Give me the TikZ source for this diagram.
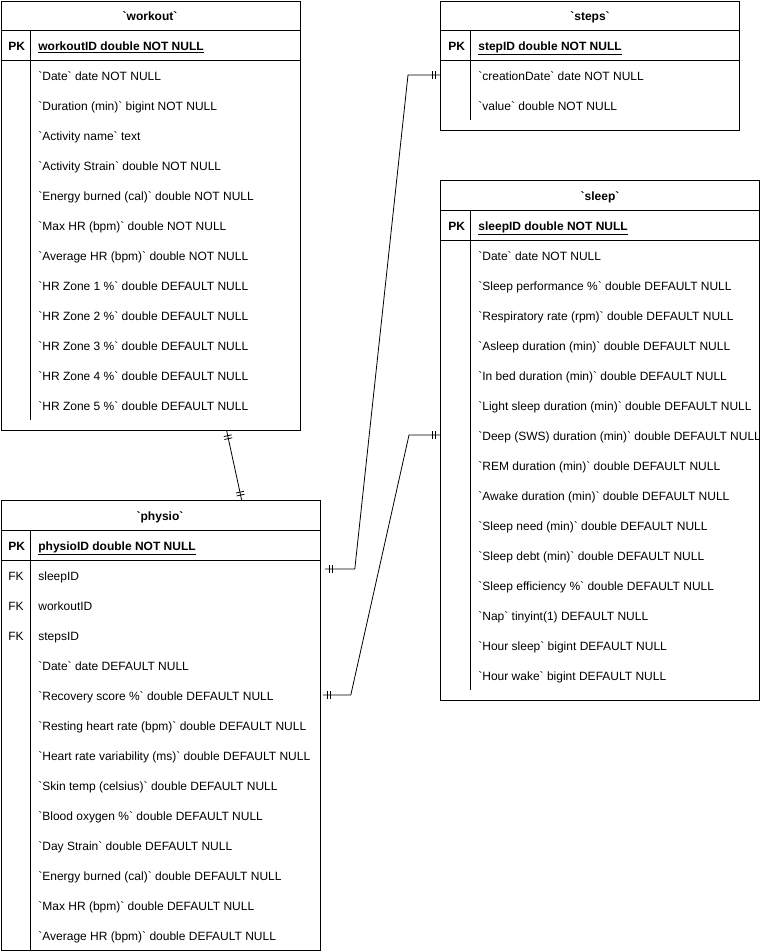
\documentclass[tikz,border=0pt]{standalone}
\usepackage{fontspec}
\setmainfont{Liberation Sans}
\usetikzlibrary{decorations.markings}
\newcommand{\bqt}[1]{\textasciigrave#1\textasciigrave}

\begin{document}
\begin{tikzpicture}[x=1pt,y=-1pt,line width=0.8pt,
	every node/.style={font=\fontsize{12}{14}\selectfont},
	table/.style={draw,anchor=north west,inner sep=0pt},
	title/.style={inner sep=0pt,text height=10.6pt,text depth=0pt,font=\fontsize{12}{14}\selectfont\bfseries},
	field/.style={anchor=west,inner sep=0pt,text height=10.6pt,text depth=0pt},
	pk/.style={field,font=\fontsize{12}{14}\selectfont\bfseries},
	one/.style={postaction={decorate,decoration={markings,
		mark=at position 5pt with {\draw (0,-4pt) -- (0,4pt);},
		mark=at position 8pt with {\draw (0,-4pt) -- (0,4pt);},
		mark=at position -5pt with {\draw (0,-4pt) -- (0,4pt);},
		mark=at position -8pt with {\draw (0,-4pt) -- (0,4pt);}}}}]
	\useasboundingbox (0,0) rectangle (760,951);
	% workout
	\node[table,minimum width=299.5pt,minimum height=429.5pt] (workout) at (0.5,0.5) {};
	\node[title] (workout-title) at (150,15) {\bqt{workout}};
	\draw (0.5,30) -- (300,30) (0.5,60) -- (300,60) (30,30) -- (30,420);
	\node[pk] (workout-pk) at (8,45) {PK};
	\node[pk] (workout-0) at (38,45) {\underline{workoutID double NOT NULL}};
	\foreach \f [count=\i] in {\bqt{Date} date NOT NULL,\bqt{Duration (min)} bigint NOT NULL,\bqt{Activity name} text,
		\bqt{Activity Strain} double NOT NULL,\bqt{Energy burned (cal)} double NOT NULL,\bqt{Max HR (bpm)} double NOT NULL,
		\bqt{Average HR (bpm)} double NOT NULL,\bqt{HR Zone 1 \%} double DEFAULT NULL,\bqt{HR Zone 2 \%} double DEFAULT NULL,
		\bqt{HR Zone 3 \%} double DEFAULT NULL,\bqt{HR Zone 4 \%} double DEFAULT NULL,\bqt{HR Zone 5 \%} double DEFAULT NULL}
		\node[field] (workout-\i) at (38,{45+30*\i}) {\f};
	% steps
	\node[table,minimum width=299pt,minimum height=129.5pt] (steps) at (440,0.5) {};
	\node[title] (steps-title) at (590,15) {\bqt{steps}};
	\draw (440,30) -- (739,30) (440,60) -- (739,60) (470,30) -- (470,120);
	\node[pk] (steps-pk) at (448,45) {PK};
	\node[pk] (steps-0) at (478,45) {\underline{stepID double NOT NULL}};
	\foreach \f [count=\i] in {\bqt{creationDate} date NOT NULL,\bqt{value} double NOT NULL}
		\node[field] (steps-\i) at (478,{45+30*\i}) {\f};
	% sleep
	\node[table,minimum width=319pt,minimum height=520pt] (sleep) at (440,180) {};
	\node[title] (sleep-title) at (600,195) {\bqt{sleep}};
	\draw (440,210) -- (759,210) (440,240) -- (759,240) (470,210) -- (470,690);
	\node[pk] (sleep-pk) at (448,225) {PK};
	\node[pk] (sleep-0) at (478,225) {\underline{sleepID double NOT NULL}};
	\foreach \f [count=\i] in {\bqt{Date} date NOT NULL,\bqt{Sleep performance \%} double DEFAULT NULL,
		\bqt{Respiratory rate (rpm)} double DEFAULT NULL,\bqt{Asleep duration (min)} double DEFAULT NULL,
		\bqt{In bed duration (min)} double DEFAULT NULL,\bqt{Light sleep duration (min)} double DEFAULT NULL,
		\bqt{Deep (SWS) duration (min)} double DEFAULT NULL,\bqt{REM duration (min)} double DEFAULT NULL,
		\bqt{Awake duration (min)} double DEFAULT NULL,\bqt{Sleep need (min)} double DEFAULT NULL,
		\bqt{Sleep debt (min)} double DEFAULT NULL,\bqt{Sleep efficiency \%} double DEFAULT NULL,
		\bqt{Nap} tinyint(1) DEFAULT NULL,\bqt{Hour sleep} bigint DEFAULT NULL,\bqt{Hour wake} bigint DEFAULT NULL}
		\node[field] (sleep-\i) at (478,{225+30*\i}) {\f};
	% physio
	\node[table,minimum width=319.5pt,minimum height=450pt] (physio) at (0.5,500) {};
	\node[title] (physio-title) at (160,515) {\bqt{physio}};
	\draw (0.5,530) -- (320,530) (0.5,560) -- (320,560) (30,530) -- (30,950);
	\node[pk] (physio-pk) at (8,545) {PK};
	\node[pk] (physio-0) at (38,545) {\underline{physioID double NOT NULL}};
	\foreach \f [count=\i] in {sleepID,workoutID,stepsID}{
		\node[field] (physio-fk\i) at (8,{545+30*\i}) {FK};
		\node[field] (physio-\i) at (38,{545+30*\i}) {\f};
	}
	\foreach \f [count=\i from 4] in {\bqt{Date} date DEFAULT NULL,\bqt{Recovery score \%} double DEFAULT NULL,
		\bqt{Resting heart rate (bpm)} double DEFAULT NULL,\bqt{Heart rate variability (ms)} double DEFAULT NULL,
		\bqt{Skin temp (celsius)} double DEFAULT NULL,\bqt{Blood oxygen \%} double DEFAULT NULL,
		\bqt{Day Strain} double DEFAULT NULL,\bqt{Energy burned (cal)} double DEFAULT NULL,
		\bqt{Max HR (bpm)} double DEFAULT NULL,\bqt{Average HR (bpm)} double DEFAULT NULL}
		\node[field] (physio-\i) at (38,{545+30*\i}) {\f};
	% relations
	\draw[one] ([xshift=76pt]workout.south) -- ([xshift=81pt]physio.north);
	\draw[one] ([shift={(4pt,6pt)}]physio.east |- physio-1) -- ++(30,0)
		-- ([xshift=-32pt]steps.west |- steps-1) -- (steps.west |- steps-1);
	\draw[one] ([xshift=2pt]physio.east |- physio-5) -- ++(28,0)
		-- ([xshift=-31pt]sleep.west |- sleep-7) -- (sleep.west |- sleep-7);
\end{tikzpicture}
\end{document}
